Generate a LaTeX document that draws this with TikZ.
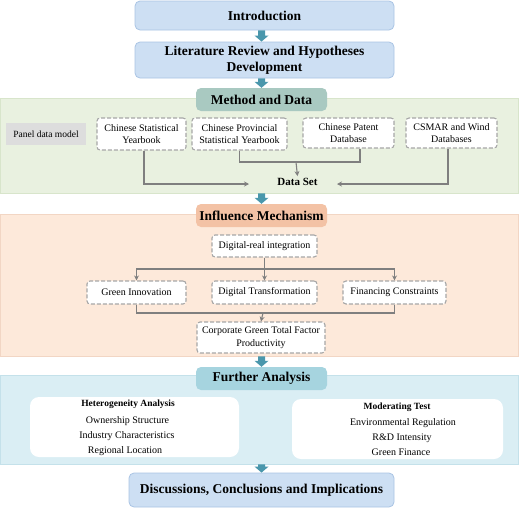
\documentclass[tikz,border=0pt]{standalone}
\usepackage{fontspec}
\setmainfont{Liberation Serif}
\usetikzlibrary{calc,arrows.meta}
\definecolor{introfill}{HTML}{CDDFF3}
\definecolor{introdraw}{HTML}{A9C4E4}
\definecolor{greenpanel}{HTML}{E9F1E0}
\definecolor{greenpaneldraw}{HTML}{D8E5CB}
\definecolor{methodfill}{HTML}{A9C9C1}
\definecolor{orangepanel}{HTML}{FDE9DA}
\definecolor{orangepaneldraw}{HTML}{F2D6C4}
\definecolor{influfill}{HTML}{F3C2A5}
\definecolor{bluepanel}{HTML}{DAEEF4}
\definecolor{bluepaneldraw}{HTML}{C4E1EA}
\definecolor{furtherfill}{HTML}{A6D4DF}
\definecolor{teal2}{HTML}{4A97AC}
\definecolor{dashgrey}{HTML}{A6A6A6}
\definecolor{linegrey}{HTML}{7F7F7F}
\definecolor{paneldata}{HTML}{DDDDDD}
\tikzset{
  x=1pt,y=-1pt,
  bigtitle/.style={rounded corners=5pt,align=center,inner sep=0pt,
    font=\fontsize{13.5}{16}\selectfont\bfseries},
  mainbox/.style={bigtitle,fill=introfill,draw=introdraw,line width=0.8pt},
  panelbox/.style={inner sep=0pt,line width=0.8pt},
  dbox/.style={draw=dashgrey,dashed,dash pattern=on 4pt off 2pt,line width=1.1pt,fill=white,
    rounded corners=3pt,align=center,inner sep=0pt,font=\fontsize{10}{12}\selectfont},
  conn/.style={draw=linegrey,line width=1.1pt},
  connarr/.style={conn,-{Stealth[length=5pt,width=5pt]}},
  wbox/.style={fill=white,rounded corners=9pt,inner sep=0pt},
  itemtext/.style={inner sep=0pt,font=\fontsize{10}{12}\selectfont},
  headtext/.style={inner sep=0pt,font=\fontsize{9.5}{12}\selectfont\bfseries},
}
\newcommand\blockarr[2]{%
  \fill[teal2] let \p1=(#1), \p2=(#2), \p3=(method.center) in
    (\x3-3.5pt,\y1) -- (\x3+3.5pt,\y1) -- (\x3+3.5pt,\y2+6pt) -- (\x3+7pt,\y2+6pt)
    -- (\x3,\y2) -- (\x3-7pt,\y2+6pt) -- (\x3-3.5pt,\y2+6pt) -- cycle;}
\begin{document}
\begin{tikzpicture}
\useasboundingbox (0,0) rectangle (520,509);
% panels
\node[panelbox,fill=greenpanel,draw=greenpaneldraw,minimum width=518,minimum height=95] (gpanel) at (259,145.5) {};
\node[panelbox,fill=orangepanel,draw=orangepaneldraw,minimum width=518,minimum height=142] (opanel) at (259,285) {};
\node[panelbox,fill=bluepanel,draw=bluepaneldraw,minimum width=518,minimum height=89] (bpanel) at (259,419.5) {};
% main boxes
\node[mainbox,minimum width=259,minimum height=29] (intro) at (264.5,15.5) {Introduction};
\node[mainbox,minimum width=259,minimum height=36] (lit) at (264.5,60) {Literature Review and Hypotheses\\Development};
\node[bigtitle,fill=methodfill,minimum width=131,minimum height=23] (method) at (261.5,99.5) {Method and Data};
\node[bigtitle,fill=influfill,minimum width=131,minimum height=23] (influ) at (261.5,215.5) {Influence Mechanism};
\node[bigtitle,fill=furtherfill,minimum width=131,minimum height=23] (further) at (261.5,378.5) {Further Analysis};
\node[mainbox,minimum width=265,minimum height=34] (disc) at (261.5,490) {Discussions, Conclusions and Implications};
% block arrows
\blockarr{intro.south}{lit.north}
\blockarr{lit.south}{method.north}
\blockarr{gpanel.south}{influ.north}
\blockarr{opanel.south}{further.north}
\blockarr{bpanel.south}{disc.north}
% method and data
\node[fill=paneldata,inner sep=0pt,minimum width=80,minimum height=22,font=\fontsize{9.5}{12}\selectfont] (pdm) at (46,134) {Panel data model};
\node[dbox,minimum width=89,minimum height=32] (csy) at (141.5,134) {Chinese Statistical\\Yearbook};
\node[dbox,minimum width=95,minimum height=32] (cpsy) at (239.5,134) {Chinese Provincial\\Statistical Yearbook};
\node[dbox,minimum width=91,minimum height=30] (cpd) at (348.5,133) {Chinese Patent\\Database};
\node[dbox,minimum width=91,minimum height=30] (csmar) at (451.5,133) {CSMAR and Wind\\Databases};
\node[inner sep=2pt,font=\fontsize{11}{13}\selectfont\bfseries] (dataset) at (297.5,182) {Data Set};
\coordinate (dsL) at (249,184);
\coordinate (dsR) at (337,184);
\coordinate (pj) at (296,162);
\draw[connarr] ([xshift=2.5pt]csy.south) |- (dsL);
\draw[connarr] ([xshift=-3.5pt]csmar.south) |- (dsR);
\draw[conn] (cpsy.south) |- (pj) -| ([xshift=11.5pt]cpd.south);
\draw[connarr] (pj) -- (dataset.north);
% influence mechanism
\node[dbox,minimum width=105,minimum height=22] (dri) at (264.5,246) {Digital-real integration};
\node[dbox,minimum width=99,minimum height=23] (gi) at (136.5,292.5) {Green Innovation};
\node[dbox,minimum width=105,minimum height=23] (dt) at (264.5,292.5) {Digital Transformation};
\node[dbox,minimum width=103,minimum height=23] (fc) at (394.5,292.5) {Financing Constraints};
\node[dbox,minimum width=128,minimum height=31,font=\fontsize{10}{13}\selectfont] (cg) at (261,337.5) {Corporate Green Total Factor\\Productivity};
\coordinate (split) at (264.5,269);
\coordinate (join) at (263,313);
\draw[conn] (dri.south) -- (split);
\draw[connarr] (split) -| (gi.north);
\draw[connarr] (split) -| (fc.north);
\draw[connarr] (split) -- (dt.north);
\draw[conn] (gi.south) |- (join) -| (fc.south);
\draw[connarr] (join) -- (cg.north);
% further analysis
\node[wbox,minimum width=209,minimum height=60] (het) at (134.5,427) {};
\node[wbox,minimum width=211,minimum height=60] (mod) at (397.5,429) {};
\node[headtext] (hettitle) at (128,404) {Heterogeneity Analysis};
\node[itemtext] (own) at (127.5,421) {Ownership Structure};
\node[itemtext] (ind) at (127,436) {Industry Characteristics};
\node[itemtext] (reg) at (125,451) {Regional Location};
\node[headtext] (modtitle) at (397,407) {Moderating Test};
\node[itemtext] (env) at (403,423) {Environmental Regulation};
\node[itemtext] (rd) at (402,438) {R\&D Intensity};
\node[itemtext] (gf) at (401,452) {Green Finance};
\end{tikzpicture}
\end{document}
